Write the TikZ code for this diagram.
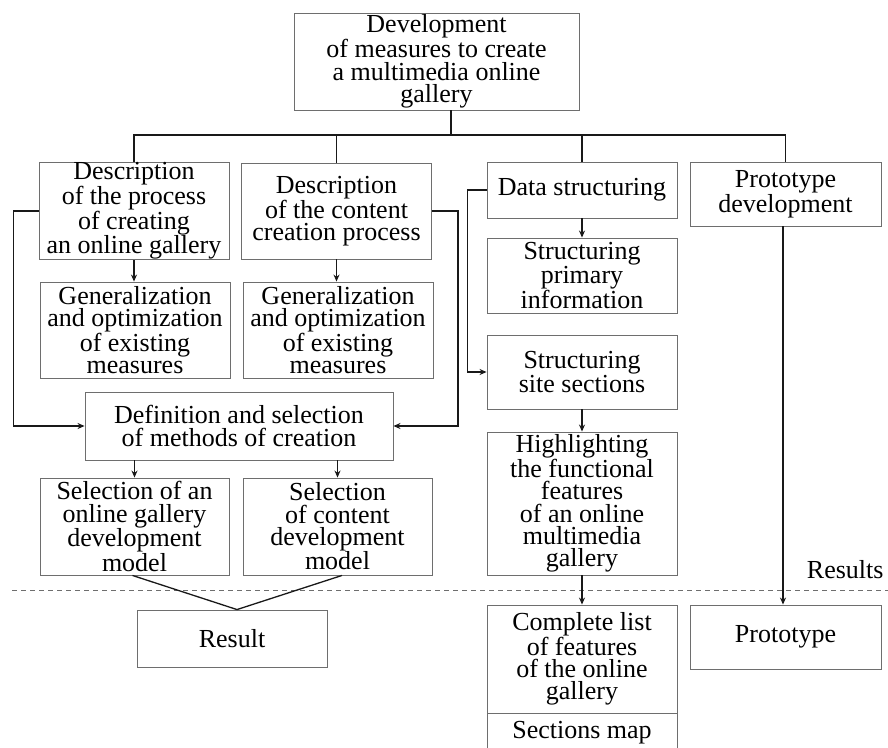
\documentclass[tikz,border=0pt]{standalone}
\usepackage{fontspec}
\setmainfont{Liberation Serif}
\definecolor{boxgray}{RGB}{110,110,110}
\definecolor{linedark}{RGB}{25,25,25}
\usetikzlibrary{arrows.meta, positioning}

\begin{document}
\begin{tikzpicture}[x=1pt,y=-1pt,
        font=\fontsize{26}{22.3}\selectfont,
        box/.style={rectangle,draw=boxgray,line width=0.9pt,align=center,
                    inner sep=0pt,minimum width=190pt},
        link/.style={linedark,line width=1.3pt},
        arr/.style={link,-{Stealth[length=7pt,width=6pt]}}]
      \useasboundingbox (0,0) rectangle (888,747);
      % top of the tree
      \node[box,minimum width=285pt,minimum height=97pt] (top) at (436.5,61.5)
        {Development\\of measures to create\\a multimedia online\\gallery};
      \node[box,minimum height=96pt] (desc1) at (134,211)
        {Description\\of the process\\of creating\\an online gallery};
      \node[box,minimum height=96pt] (desc2) at (336.5,211)
        {Description\\of the content\\creation process};
      \node[box,minimum height=56pt] (data) at (582,190) {Data structuring};
      \node[box,minimum width=191pt,minimum height=64pt] (proto) at (785.5,194)
        {Prototype\\development};
      % second level
      \node[box,minimum height=96pt] (gen1) at (135,330)
        {Generalization\\and optimization\\of existing\\measures};
      \node[box,minimum height=96pt] (gen2) at (338,330)
        {Generalization\\and optimization\\of existing\\measures};
      \node[box,minimum height=75pt] (prim) at (582,275.5)
        {Structuring\\primary\\information};
      \node[box,minimum height=74pt] (site) at (582,372)
        {Structuring\\site sections};
      \node[box,minimum height=143pt] (func) at (582,503.5)
        {Highlighting\\the functional\\features\\of an online\\multimedia\\gallery};
      \node[box,minimum width=308pt,minimum height=68pt] (meth) at (239,426)
        {Definition and selection\\of methods of creation};
      \node[box,minimum width=189pt,minimum height=97pt] (sel1) at (134.5,526.5)
        {Selection of an\\online gallery\\development\\model};
      \node[box,minimum width=189pt,minimum height=97pt] (sel2) at (337.5,526.5)
        {Selection\\of content\\development\\model};
      % results
      \node[box,minimum height=57pt] (res) at (232,638.5) {Result};
      \node[box,minimum width=191pt,minimum height=64pt] (ptype) at (785.5,637)
        {Prototype};
      \node[box,minimum height=108pt] (list) at (582,659)
        {Complete list\\of features\\of the online\\gallery};
      \node[box,minimum height=40pt] (smap) at (582,733) {Sections map};
      \draw[boxgray,line width=0.8pt,dash pattern=on 5pt off 4pt] (12,590) -- (888,590);
      \node[anchor=base east] (reslabel) at (887,578) {Results};
      % bus under the top box
      \coordinate (bus) at (451,135);
      \draw[link] ([xshift=14.5pt]top.south) -- (bus);
      \draw[link] (desc1.north) |- (proto.north |- bus) -- (proto.north);
      \draw[link] (desc2.north) -- (desc2.north |- bus);
      \draw[link] (data.north) -- (data.north |- bus);
      \draw[arr] (desc1.south) -- (desc1.south |- gen1.north);
      \draw[arr] (desc2.south) -- (desc2.south |- gen2.north);
      \draw[arr] (desc1.west) -- ++(-25,0) |- (meth.west);
      \draw[arr] (desc2.east) -- ++(26,0) |- (meth.east);
      \draw[arr] (sel1.north |- meth.south) -- (sel1.north);
      \draw[arr] (sel2.north |- meth.south) -- (sel2.north);
      \draw[link] ([xshift=-2pt]sel1.south) -- ([xshift=5pt]res.north)
        -- ([xshift=4.5pt]sel2.south);
      \draw[arr] (data.south) -- (data.south |- prim.north);
      \draw[arr] (data.west) -- ++(-19,0) |- (site.west);
      \draw[arr] (site.south) -- (site.south |- func.north);
      \draw[arr] (func.south) -- (func.south |- list.north);
      \draw[arr] ([xshift=-2.5pt]proto.south) -- ([xshift=-2.5pt]ptype.north);
    \end{tikzpicture}
\end{document}
